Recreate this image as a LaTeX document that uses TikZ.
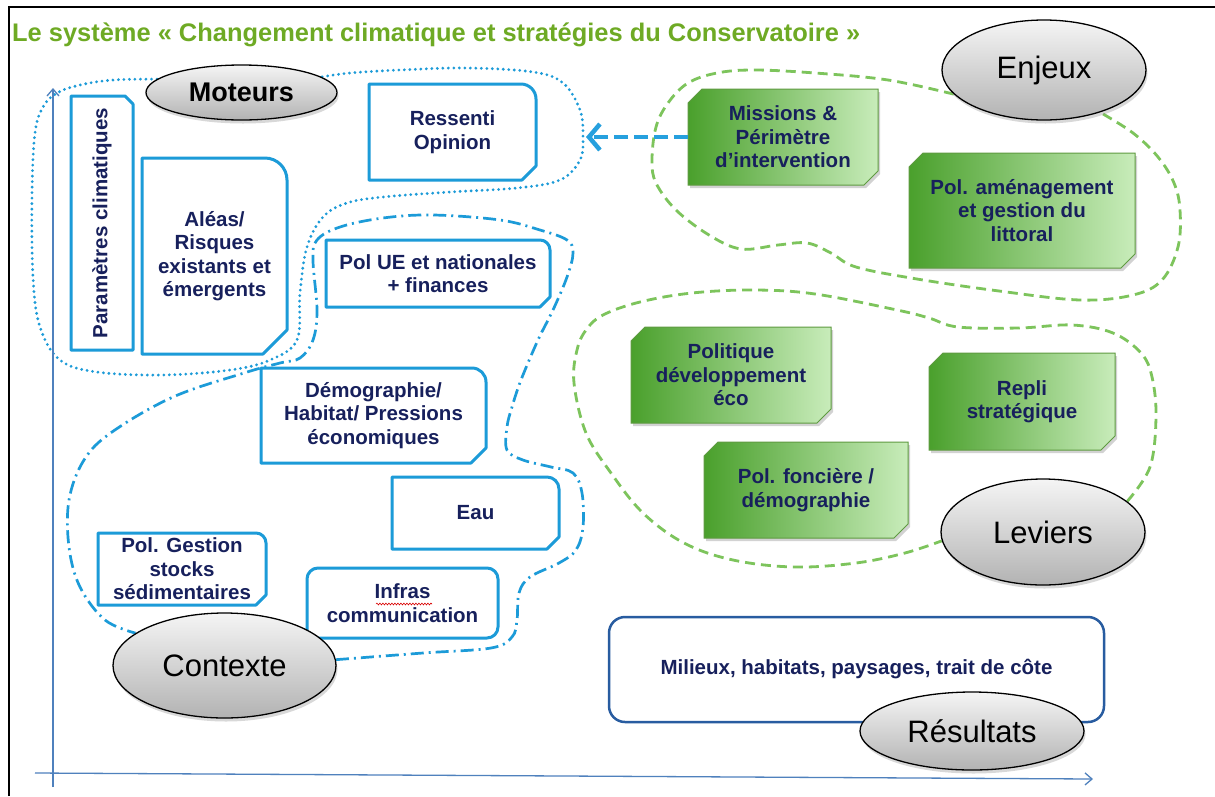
\documentclass[tikz,border=0pt]{standalone}
\usepackage{graphicx}
\usepackage{fontspec}
\setmainfont{Liberation Sans}
\usetikzlibrary{calc,shapes.geometric,shadows,arrows.meta,decorations.pathmorphing}
\definecolor{navy}{RGB}{23,32,92}
\definecolor{bbl}{RGB}{28,155,216}
\definecolor{axblue}{RGB}{79,129,189}
\definecolor{gdash}{RGB}{125,196,92}
\definecolor{gleft}{RGB}{74,160,44}
\definecolor{gright}{RGB}{200,236,186}
\definecolor{gborder}{RGB}{95,155,65}
\definecolor{titlegreen}{RGB}{110,170,36}
\definecolor{milblue}{RGB}{40,92,160}
\definecolor{arrblue}{RGB}{38,160,222}
\pgfdeclarelayer{back}
\pgfdeclarelayer{bg}
\pgfsetlayers{back,bg,main}
\tikzset{
  btext/.style={inner sep=0pt, outer sep=0pt, align=center, text=navy,
    font=\bfseries\fontsize{20.5}{23.5}\selectfont},
  bluebox/.style={draw=bbl, line width=3pt, fill=white, line join=round},
  greenbox/.style={left color=gleft, right color=gright, draw=gborder, line width=1pt,
    drop shadow={shadow xshift=2pt, shadow yshift=-3pt, opacity=0.35}},
  labell/.style={ellipse, draw=black, line width=1.3pt, top color=gray!8, bottom color=gray!60,
    inner sep=0pt, text=black, font=\fontsize{31}{31}\selectfont,
    drop shadow={shadow xshift=1.5pt, shadow yshift=-3.5pt, opacity=0.3}},
  dotline/.style={draw=bbl, line width=3.1pt, line cap=round, dash pattern=on 0pt off 5.5pt},
  dashdotline/.style={draw=bbl, line width=2.7pt, dash pattern=on 13pt off 5pt on 2pt off 5pt},
  gdashline/.style={draw=gdash, line width=2.8pt, dash pattern=on 10pt off 6pt},
  axisline/.style={draw=axblue, line width=1.3pt, -{Straight Barb[length=7pt, width=12pt]}},
  bigarrow/.style={draw=arrblue, line width=4.5pt, dash pattern=on 14pt off 6pt,
    -{Straight Barb[length=11pt, width=26pt]}}
}
\newcommand\myRSbox[3]{%
  \draw[bluebox] (#1.south west) -- (#1.north west) -- ($(#1.north east)+(-#2,0)$)
   .. controls ($(#1.north east)+(-0.45*#2,0)$) and ($(#1.north east)+(0,0.45*#2)$) .. ($(#1.north east)+(0,#2)$)
   -- ($(#1.south east)+(0,-#3)$) -- ($(#1.south east)+(-#3,0)$) -- cycle;}
\newcommand\myRRbox[2]{%
  \draw[bluebox] (#1.south west) -- ($(#1.north west)+(0,#2)$)
   .. controls ($(#1.north west)+(0,0.45*#2)$) and ($(#1.north west)+(0.45*#2,0)$) .. ($(#1.north west)+(#2,0)$)
   -- ($(#1.north east)+(-#2,0)$)
   .. controls ($(#1.north east)+(-0.45*#2,0)$) and ($(#1.north east)+(0,0.45*#2)$) .. ($(#1.north east)+(0,#2)$)
   -- ($(#1.south east)+(0,-#2)$)
   .. controls ($(#1.south east)+(0,-0.45*#2)$) and ($(#1.south east)+(-0.45*#2,0)$) .. ($(#1.south east)+(-#2,0)$)
   -- cycle;}
\newcommand\myGbox[2]{%
  \path[greenbox] (#1.south west) -- ($(#1.north west)+(0,#2)$) -- ($(#1.north west)+(#2,0)$)
   -- (#1.north east) -- ($(#1.south east)+(0,-#2)$) -- ($(#1.south east)+(-#2,0)$) -- cycle;}
\begin{document}
\begin{tikzpicture}[x=1pt,y=-1pt]
\useasboundingbox (0,0) rectangle (1215,796);
\begin{pgfonlayer}{back}
\fill[white] (0,0) rectangle (1215,796);
\end{pgfonlayer}

% title
\node[anchor=base west, inner sep=0pt, text=titlegreen] (title) at (12,41)
  {\resizebox{848pt}{!}{\bfseries\fontsize{25}{25}\selectfont Le système « Changement climatique et stratégies du Conservatoire »}};

% text nodes (blue boxes)
\node[inner sep=0pt, outer sep=0pt, minimum width=62pt, minimum height=254pt] (param) at (102,223) {};
\node[btext, rotate=90] (paramt) at (param.center) {Paramètres climatiques};
\node[btext, minimum width=145pt, minimum height=196pt] (aleas) at (214.5,256) {Aléas/\\Risques\\existants et\\émergents};
\node[btext, minimum width=167pt, minimum height=96pt] (ress) at (452.5,132) {Ressenti\\Opinion};
\node[btext, minimum width=224pt, minimum height=67pt] (polue) at (438,273.5) {Pol UE et nationales\\+ finances};
\node[btext, minimum width=225pt, minimum height=95pt] (demo) at (373.5,415.5) {Démographie/\\Habitat/ Pressions\\économiques};
\node[btext, minimum width=167pt, minimum height=72pt] (eau) at (475.5,513) {Eau};
\node[btext, minimum width=168pt, minimum height=72pt] (polg) at (182,569) {Pol. Gestion\\stocks\\sédimentaires};
\node[btext, minimum width=191pt, minimum height=70pt] (infra) at (402.5,603) {Infras\\communication};

% green boxes text
\node[btext, minimum width=190pt, minimum height=96pt] (miss) at (783,137) {Missions \&\\Périmètre\\d’intervention};
\node[btext, minimum width=226pt, minimum height=115pt] (polam) at (1022,210.5) {Pol. aménagement\\et gestion du\\littoral};
\node[btext, minimum width=200pt, minimum height=96pt] (polit) at (731,375) {Politique\\développement\\éco};
\node[btext, minimum width=186pt, minimum height=97pt] (repli) at (1022,401.5) {Repli\\stratégique};
\node[btext, minimum width=204pt, minimum height=96pt] (polf) at (806,490) {Pol. foncière /\\démographie};

% résultats box
\node[btext, draw=milblue, line width=2.5pt, rounded corners=16pt, fill=white,
  minimum width=495pt, minimum height=105pt] (milieux) at (856.5,669.5) {Milieux, habitats, paysages, trait de côte};

% ellipses
\node[labell, minimum width=191pt, minimum height=55pt, font=\bfseries\fontsize{27}{27}\selectfont] (mot) at (241.5,92.5) {Moteurs};
\node[labell, minimum width=204pt, minimum height=100pt] (enj) at (1044,70) {Enjeux};
\node[labell, minimum width=204pt, minimum height=106pt] (lev) at (1043,532) {Leviers};
\node[labell, minimum width=223pt, minimum height=105pt] (ctx) at (224.5,665.5) {Contexte};
\node[labell, minimum width=224pt, minimum height=78pt] (res) at (972,731) {Résultats};

% arrow from Missions to Moteurs group
\coordinate (tipM) at (586,137);
\draw[bigarrow] (miss.west) -- (tipM);

% spell-check squiggle
\draw[red!85!black, line width=0.6pt, decorate, decoration={snake, amplitude=0.9pt, segment length=3pt}] (376,604) -- (432,604);

\begin{pgfonlayer}{bg}
% frame and axes
\draw[line width=2.5pt] (9,796) -- (9,7) -- (1215,7);
\coordinate (ax0) at (53,787);
\coordinate (axtop) at (53,88);
\coordinate (axl) at (35,773);
\coordinate (axr) at (1093,779);
\draw[axisline] (ax0) -- (axtop);
\draw[axisline] (axl) -- (axr);
% blue boxes
\draw[bluebox] (param.south west) -- (param.north west) -- ($(param.north east)+(-8,0)$) -- ($(param.north east)+(0,8)$) -- (param.south east) -- cycle;
\myRSbox{aleas}{22}{24}
\myRSbox{ress}{15}{14}
\myRSbox{polue}{10}{10}
\myRSbox{demo}{14}{15}
\myRSbox{eau}{12}{12}
\myRSbox{polg}{10}{10}
\myRRbox{infra}{11}
% green boxes
\myGbox{miss}{14}
\myGbox{polam}{14}
\myGbox{polit}{14}
\myGbox{repli}{14}
\myGbox{polf}{14}
\end{pgfonlayer}

\begin{pgfonlayer}{back}
% Moteurs group (dotted)
\draw[dotline] plot[smooth, tension=0.6] coordinates {(mot.171) (113,80) (80,85) (57,93) (43,107) (35,133) (32,193) (33,277) (40,327) (60,360) (97,372) (163,375) (230,370) (270,360) (297,340) (300,293) (307,247) (323,217) (347,203) (383,197) (450,192) (517,188) (560,180) (580,160) (583,137) (580,110) (563,83) (533,72) (467,68) (400,70) (350,73) (mot.11)};
% Contexte group (dash-dot)
\draw[dashdotline] plot[smooth, tension=0.6] coordinates {(ctx.3) (423,653) (491,648) (512,637) (517,620) (519,593) (530,577) (559,563) (576,550) (583,527) (582,493) (573,473) (551,467) (523,460) (507,450) (507,427) (512,407) (521,380) (538,340) (553,310) (567,277) (573,253) (567,240) (540,230) (500,220) (433,215) (383,218) (340,227) (317,240) (313,260) (317,310) (313,340) (300,358) (280,363) (244,373) (173,397) (112,432) (84,460) (69,500) (69,547) (80,587) (105,620) (ctx.160)};
% Enjeux group (dashed green)
\draw[gdashline] plot[smooth, tension=0.6] coordinates {(enj.195) (888,80) (815,73) (754,70) (717,73) (688,83) (668,103) (656,127) (652,160) (656,183) (676,210) (709,235) (741,249) (778,245) (807,243) (831,253) (856,267) (917,279) (999,291) (1080,300) (1133,295) (1162,280) (1178,247) (1180,210) (1174,183) (1158,157) (1133,133) (enj.323)};
% Leviers group (dashed green)
\draw[gdashline] plot[smooth, tension=0.6] coordinates {(lev.20) (1150,467) (1156,417) (1152,377) (1141,353) (1113,333) (1072,325) (1019,328) (958,327) (929,318) (897,310) (815,294) (754,290) (692,293) (640,302) (603,315) (586,330) (577,350) (574,383) (586,433) (611,473) (643,513) (684,543) (733,560) (794,567) (856,563) (905,553) (lev.185)};
\end{pgfonlayer}
\end{tikzpicture}
\end{document}
